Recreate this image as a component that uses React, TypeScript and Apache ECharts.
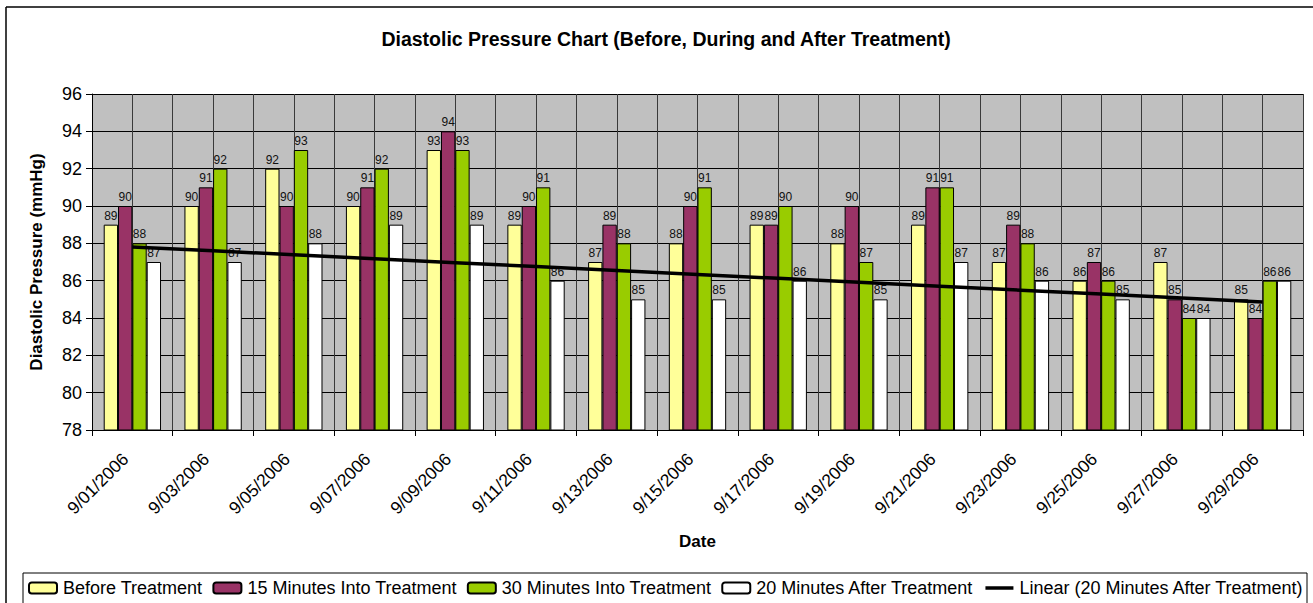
import React, { useEffect, useRef } from "react";
import * as echarts from "echarts";

const dates = [
  "9/01/2006", "9/03/2006", "9/05/2006", "9/07/2006", "9/09/2006",
  "9/11/2006", "9/13/2006", "9/15/2006", "9/17/2006", "9/19/2006",
  "9/21/2006", "9/23/2006", "9/25/2006", "9/27/2006", "9/29/2006",
];
const beforeTreatment = [89, 90, 92, 90, 93, 89, 87, 88, 89, 88, 89, 87, 86, 87, 85];
const min15Into = [90, 91, 90, 91, 94, 90, 89, 90, 89, 90, 91, 89, 87, 85, 84];
const min30Into = [88, 92, 93, 92, 93, 91, 88, 91, 90, 87, 91, 88, 86, 84, 86];
const min20After = [87, 87, 88, 89, 89, 86, 85, 85, 86, 85, 87, 86, 85, 84, 86];
const yTicks = { min: 78, max: 96, interval: 2 };

const seriesNames = [
  "Before Treatment",
  "15 Minutes Into Treatment",
  "30 Minutes Into Treatment",
  "20 Minutes After Treatment",
];
const trendName = "Linear (20 Minutes After Treatment)";
const colors = ["#FFFF99", "#993366", "#99CC00", "#FFFFFF"];

// least-squares linear trend of the "20 Minutes After Treatment" series
function linearTrend(ys: number[]): number[] {
  const n = ys.length;
  const xs = ys.map((_, i) => i + 1);
  const mx = xs.reduce((a, b) => a + b, 0) / n;
  const my = ys.reduce((a, b) => a + b, 0) / n;
  let sxy = 0;
  let sxx = 0;
  for (let i = 0; i < n; i++) {
    sxy += (xs[i] - mx) * (ys[i] - my);
    sxx += (xs[i] - mx) * (xs[i] - mx);
  }
  const slope = sxy / sxx;
  return xs.map((x) => +(my + slope * (x - mx)).toFixed(3));
}

const FONT = "'Liberation Sans', Arial, sans-serif";

export default function App() {
  const ref = useRef<HTMLDivElement>(null);

  useEffect(() => {
    document.body.style.margin = "0";
    if (!ref.current) return;
    const chart = echarts.init(ref.current, undefined, { renderer: "svg" });
    const halfCats = dates.flatMap((d) => [d + "a", d + "b"]);
    const values = [beforeTreatment, min15Into, min30Into, min20After];

    chart.setOption({
      animation: false,
      backgroundColor: "#FFFFFF",
      textStyle: { fontFamily: FONT, color: "#000" },
      title: {
        text: "Diastolic Pressure Chart (Before, During and After Treatment)",
        left: 661,
        top: 24,
        textAlign: "center",
        textStyle: { fontFamily: FONT, fontSize: 19.5, fontWeight: "bold", color: "#000" },
      },
      grid: { left: 92, right: 10, top: 94, bottom: 173, containLabel: false },
      xAxis: [
        {
          type: "category",
          data: dates,
          position: "bottom",
          name: "Date",
          nameLocation: "middle",
          nameGap: 103,
          nameTextStyle: { fontFamily: FONT, fontSize: 17, fontWeight: "bold", color: "#000" },
          axisLine: { show: true, lineStyle: { color: "#000", width: 1 } },
          axisTick: { show: true, length: 6, interval: 0, lineStyle: { color: "#000" } },
          axisLabel: {
            interval: 0,
            rotate: 45,
            margin: 19,
            padding: [0, 10, 0, 0],
            fontFamily: FONT,
            fontSize: 17.5,
            color: "#000",
          },
          splitLine: { show: false },
        },
        {
          type: "category",
          data: halfCats,
          position: "top",
          axisLine: { show: false },
          axisTick: { show: false },
          axisLabel: { show: false },
          splitLine: { show: true, interval: 0, lineStyle: { color: "#3a3a3a", width: 1 } },
        },
      ],
      yAxis: {
        type: "value",
        min: yTicks.min,
        max: yTicks.max,
        interval: yTicks.interval,
        name: "Diastolic Pressure (mmHg)",
        nameLocation: "middle",
        nameGap: 47,
        nameTextStyle: { fontFamily: FONT, fontSize: 17, fontWeight: "bold", color: "#000" },
        axisLine: { show: true, lineStyle: { color: "#000", width: 1 } },
        axisTick: { show: true, length: 6, lineStyle: { color: "#000" } },
        axisLabel: { fontFamily: FONT, fontSize: 18, color: "#000", margin: 10 },
        splitLine: { show: true, lineStyle: { color: "#000", width: 1 } },
        splitArea: { show: false },
      },
      legend: {
        left: 28,
        top: 579,
        padding: 0,
        itemWidth: 28,
        itemHeight: 11,
        itemGap: 10,
        textStyle: { fontFamily: FONT, fontSize: 18, color: "#000", padding: [0, 0, 0, 1] },
        data: [
          ...seriesNames,
          {
            name: trendName,
            itemStyle: { opacity: 0 },
            lineStyle: { width: 3.5, color: "#000" },
          },
        ],
      },
      graphic: [
        {
          type: "rect",
          shape: { x: 0, y: 0, width: 1211, height: 336 },
          left: 92,
          top: 94,
          z: -10,
          silent: true,
          style: { fill: "#C0C0C0" },
        },
        {
          type: "rect",
          shape: { x: 23, y: 573, width: 1284, height: 45 },
          silent: true,
          style: { fill: "none", stroke: "#000", lineWidth: 1 },
        },
        {
          type: "line",
          shape: { x1: 6, y1: 7, x2: 1313, y2: 7 },
          silent: true,
          style: { stroke: "#000", lineWidth: 1.5 },
        },
        {
          type: "line",
          shape: { x1: 6, y1: 7, x2: 6, y2: 603 },
          silent: true,
          style: { stroke: "#000", lineWidth: 1.5 },
        },
      ],
      series: [
        ...values.map((v, i) => ({
          name: seriesNames[i],
          type: "bar",
          xAxisIndex: 0,
          data: v,
          barGap: "0%",
          barCategoryGap: "29%",
          itemStyle: { color: colors[i], borderColor: "#000", borderWidth: 1 },
          label: {
            show: true,
            position: "top",
            distance: 3,
            fontFamily: FONT,
            fontSize: 12,
            color: "#111",
          },
        })),
        {
          name: trendName,
          type: "line",
          xAxisIndex: 0,
          data: linearTrend(min20After),
          symbol: "none",
          lineStyle: { color: "#000", width: 3.5 },
          itemStyle: { color: "#000" },
          z: 5,
        },
      ],
    });

    return () => chart.dispose();
  }, []);

  return <div ref={ref} style={{ width: 1313, height: 603 }} />;
}
